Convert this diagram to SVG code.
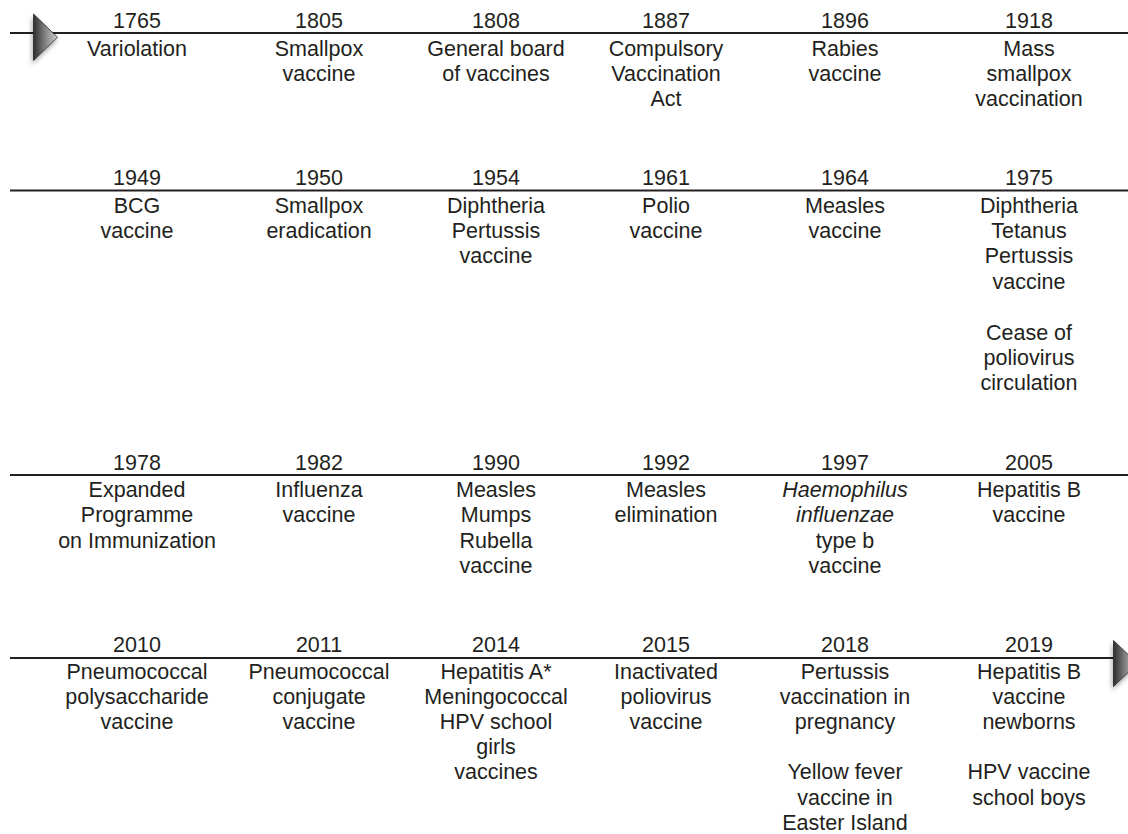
<svg xmlns="http://www.w3.org/2000/svg" width="1128" height="834" viewBox="0 0 1128 834">
<style>
text{font-family:"Liberation Sans",Arial,sans-serif;font-size:21.5px;fill:#231f20;text-anchor:middle}
.it{font-style:italic}
.axis{stroke:#231f20;stroke-width:2.2;fill:none}
.tri{fill:url(#tg);stroke:#2a2a2a;stroke-width:0.8;filter:url(#sh)}
</style>
<defs>
<linearGradient id="tg" x1="0" y1="0" x2="1" y2="0">
<stop offset="0" stop-color="#2e2e2e"/>
<stop offset="0.55" stop-color="#8c8c8c"/>
<stop offset="1" stop-color="#cfcfcf"/>
</linearGradient>
<filter id="sh" x="-50%" y="-50%" width="200%" height="200%">
<feGaussianBlur in="SourceAlpha" stdDeviation="2.5"/>
<feOffset dx="-1" dy="3" result="b"/>
<feComponentTransfer><feFuncA type="linear" slope="0.35"/></feComponentTransfer>
<feMerge><feMergeNode/><feMergeNode in="SourceGraphic"/></feMerge>
</filter>
</defs>
<rect width="1128" height="834" fill="#ffffff"/>
<g id="connectors">
<line class="axis" x1="10" y1="33" x2="1128" y2="33"/>
<line class="axis" x1="10" y1="190.5" x2="1128" y2="190.5"/>
<line class="axis" x1="10" y1="475" x2="1128" y2="475"/>
<line class="axis" x1="10" y1="658" x2="1114" y2="658"/>
<polygon class="tri" points="33.5,14 57.5,37.3 33.5,60.5"/>
<polygon class="tri" points="1113.5,640.5 1137.5,663.5 1113.5,686.5"/>
</g>
<g id="e1765"><text x="137" y="27.5">1765</text><text y="55.5"><tspan x="137">Variolation</tspan></text></g>
<g id="e1805"><text x="319" y="27.5">1805</text><text y="55.5"><tspan x="319">Smallpox</tspan><tspan x="319" dy="25.4">vaccine</tspan></text></g>
<g id="e1808"><text x="496" y="27.5">1808</text><text y="55.5"><tspan x="496">General board</tspan><tspan x="496" dy="25.4">of vaccines</tspan></text></g>
<g id="e1887"><text x="666" y="27.5">1887</text><text y="55.5"><tspan x="666">Compulsory</tspan><tspan x="666" dy="25.4">Vaccination</tspan><tspan x="666" dy="25.4">Act</tspan></text></g>
<g id="e1896"><text x="845" y="27.5">1896</text><text y="55.5"><tspan x="845">Rabies</tspan><tspan x="845" dy="25.4">vaccine</tspan></text></g>
<g id="e1918"><text x="1029" y="27.5">1918</text><text y="55.5"><tspan x="1029">Mass</tspan><tspan x="1029" dy="25.4">smallpox</tspan><tspan x="1029" dy="25.4">vaccination</tspan></text></g>

<g id="e1949"><text x="137" y="185">1949</text><text y="212.5"><tspan x="137">BCG</tspan><tspan x="137" dy="25.4">vaccine</tspan></text></g>
<g id="e1950"><text x="319" y="185">1950</text><text y="212.5"><tspan x="319">Smallpox</tspan><tspan x="319" dy="25.4">eradication</tspan></text></g>
<g id="e1954"><text x="496" y="185">1954</text><text y="212.5"><tspan x="496">Diphtheria</tspan><tspan x="496" dy="25.4">Pertussis</tspan><tspan x="496" dy="25.4">vaccine</tspan></text></g>
<g id="e1961"><text x="666" y="185">1961</text><text y="212.5"><tspan x="666">Polio</tspan><tspan x="666" dy="25.4">vaccine</tspan></text></g>
<g id="e1964"><text x="845" y="185">1964</text><text y="212.5"><tspan x="845">Measles</tspan><tspan x="845" dy="25.4">vaccine</tspan></text></g>
<g id="e1975"><text x="1029" y="185">1975</text><text y="212.5"><tspan x="1029">Diphtheria</tspan><tspan x="1029" dy="25.4">Tetanus</tspan><tspan x="1029" dy="25.4">Pertussis</tspan><tspan x="1029" dy="25.4">vaccine</tspan><tspan x="1029" dy="50.8">Cease of</tspan><tspan x="1029" dy="25.4">poliovirus</tspan><tspan x="1029" dy="25.4">circulation</tspan></text></g>

<g id="e1978"><text x="137" y="469.5">1978</text><text y="497"><tspan x="137">Expanded</tspan><tspan x="137" dy="25.4">Programme</tspan><tspan x="137" dy="25.4">on Immunization</tspan></text></g>
<g id="e1982"><text x="319" y="469.5">1982</text><text y="497"><tspan x="319">Influenza</tspan><tspan x="319" dy="25.4">vaccine</tspan></text></g>
<g id="e1990"><text x="496" y="469.5">1990</text><text y="497"><tspan x="496">Measles</tspan><tspan x="496" dy="25.4">Mumps</tspan><tspan x="496" dy="25.4">Rubella</tspan><tspan x="496" dy="25.4">vaccine</tspan></text></g>
<g id="e1992"><text x="666" y="469.5">1992</text><text y="497"><tspan x="666">Measles</tspan><tspan x="666" dy="25.4">elimination</tspan></text></g>
<g id="e1997"><text x="845" y="469.5">1997</text><text y="497"><tspan x="845" class="it">Haemophilus</tspan><tspan x="845" dy="25.4" class="it">influenzae</tspan><tspan x="845" dy="25.4">type b</tspan><tspan x="845" dy="25.4">vaccine</tspan></text></g>
<g id="e2005"><text x="1029" y="469.5">2005</text><text y="497"><tspan x="1029">Hepatitis B</tspan><tspan x="1029" dy="25.4">vaccine</tspan></text></g>

<g id="e2010"><text x="137" y="652">2010</text><text y="678.5"><tspan x="137">Pneumococcal</tspan><tspan x="137" dy="25.2">polysaccharide</tspan><tspan x="137" dy="25.2">vaccine</tspan></text></g>
<g id="e2011"><text x="319" y="652">2011</text><text y="678.5"><tspan x="319">Pneumococcal</tspan><tspan x="319" dy="25.2">conjugate</tspan><tspan x="319" dy="25.2">vaccine</tspan></text></g>
<g id="e2014"><text x="496" y="652">2014</text><text y="678.5"><tspan x="496">Hepatitis A*</tspan><tspan x="496" dy="25.2">Meningococcal</tspan><tspan x="496" dy="25.2">HPV school</tspan><tspan x="496" dy="25.2">girls</tspan><tspan x="496" dy="25.2">vaccines</tspan></text></g>
<g id="e2015"><text x="666" y="652">2015</text><text y="678.5"><tspan x="666">Inactivated</tspan><tspan x="666" dy="25.2">poliovirus</tspan><tspan x="666" dy="25.2">vaccine</tspan></text></g>
<g id="e2018"><text x="845" y="652">2018</text><text y="678.5"><tspan x="845">Pertussis</tspan><tspan x="845" dy="25.2">vaccination in</tspan><tspan x="845" dy="25.2">pregnancy</tspan><tspan x="845" dy="50.4">Yellow fever</tspan><tspan x="845" dy="25.2">vaccine in</tspan><tspan x="845" dy="25.2">Easter Island</tspan></text></g>
<g id="e2019"><text x="1029" y="652">2019</text><text y="678.5"><tspan x="1029">Hepatitis B</tspan><tspan x="1029" dy="25.2">vaccine</tspan><tspan x="1029" dy="25.2">newborns</tspan><tspan x="1029" dy="50.4">HPV vaccine</tspan><tspan x="1029" dy="25.2">school boys</tspan></text></g>
</svg>
